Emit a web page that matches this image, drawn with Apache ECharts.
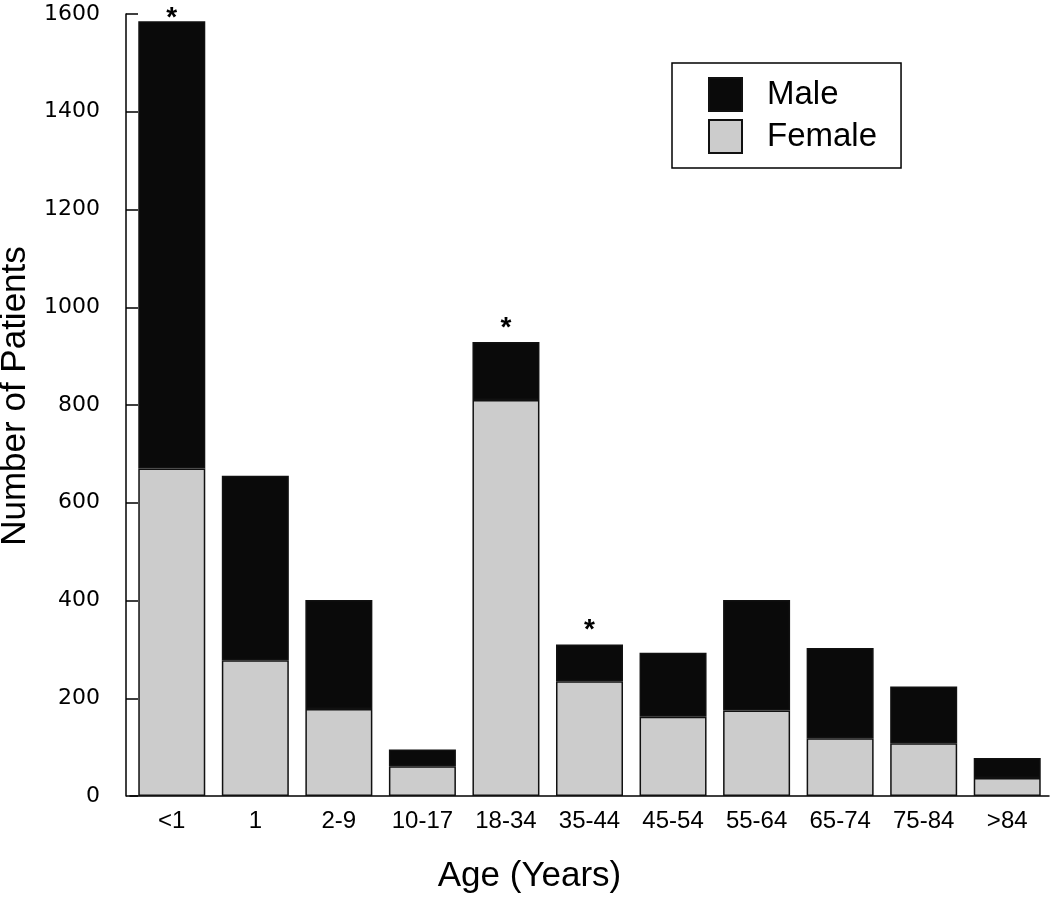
<!DOCTYPE html>
<html>
<head>
<meta charset="utf-8">
<script src="https://cdn.jsdelivr.net/npm/echarts@6/dist/echarts.min.js"></script>
<style>
html,body{margin:0;padding:0;background:#fff;}
#chart{width:1050px;height:898px;}
</style>
</head>
<body>
<div id="chart"></div>
<script>
const categories = ['<1','1','2-9','10-17','18-34','35-44','45-54','55-64','65-74','75-84','>84'];
const female = [670, 278, 178, 61, 810, 235, 162, 175, 118, 108, 37];
const male   = [915, 377, 223, 34, 119, 75, 131, 226, 185, 116, 41];
const stars  = ['*','','','','*','*','','','','',''];
const yTicks = [0, 200, 400, 600, 800, 1000, 1200, 1400, 1600];

const chart = echarts.init(document.getElementById('chart'), null, {renderer:'canvas'});

const maleData = male.map((v, i) => ({
  value: v,
  label: {
    show: stars[i] !== '',
    formatter: stars[i],
    offset: [0, i === 0 ? 11 : 0]
  }
}));

const option = {
  backgroundColor: '#fff',
  animation: false,
  grid: {left: 130, right: 1, top: 14, bottom: 102, containLabel: false, outerBoundsMode: 'none'},
  legend: {
    data: ['Male', 'Female'],
    orient: 'vertical',
    left: 672, top: 63,
    padding: [14, 24, 14, 36],
    itemWidth: 33, itemHeight: 33, itemGap: 7,
    borderColor: '#000', borderWidth: 1.5,
    backgroundColor: '#fff',
    icon: 'rect',
    textStyle: {fontFamily: 'Liberation Sans', fontSize: 33, color: '#000', padding: [0,0,0,20]}
  },
  xAxis: {
    type: 'category',
    data: categories,
    name: 'Age (Years)',
    nameLocation: 'middle',
    nameGap: 63,
    nameTextStyle: {fontFamily: 'Liberation Sans', fontSize: 35, color: '#000', padding: [0, 120, 0, 0]},
    axisLine: {show: true, lineStyle: {color: '#000', width: 1.5}},
    axisTick: {show: false},
    axisLabel: {fontFamily: 'Liberation Sans', fontSize: 24, color: '#000', margin: 13, interval: 0}
  },
  yAxis: {
    type: 'value',
    min: yTicks[0], max: yTicks[yTicks.length - 1], interval: 200,
    offset: 4,
    name: 'Number of Patients',
    nameLocation: 'middle',
    nameGap: 93,
    nameTextStyle: {fontFamily: 'Liberation Sans', fontSize: 35, color: '#000', padding: [0, 0, 0, 18]},
    axisLine: {show: true, lineStyle: {color: '#000', width: 1.5}},
    axisTick: {show: true, inside: true, length: 12, lineStyle: {color: '#000', width: 1.5}},
    axisLabel: {fontFamily: 'DejaVu Sans', fontSize: 22, color: '#000', margin: 26, formatter: v => String(v)},
    splitLine: {show: false}
  },
  series: [
    {
      name: 'Female',
      type: 'bar',
      stack: 'total',
      data: female,
      barWidth: 67,
      itemStyle: {color: '#cccccc', borderColor: '#111', borderWidth: 1.5}
    },
    {
      name: 'Male',
      type: 'bar',
      stack: 'total',
      data: maleData,
      barWidth: 67,
      itemStyle: {color: '#0a0a0a', borderColor: '#111', borderWidth: 1.5},
      label: {
        position: 'top',
        distance: 0,
        fontFamily: 'Liberation Sans',
        fontSize: 28,
        fontWeight: 'bold',
        color: '#000'
      }
    }
  ]
};
chart.setOption(option);
</script>
</body>
</html>
